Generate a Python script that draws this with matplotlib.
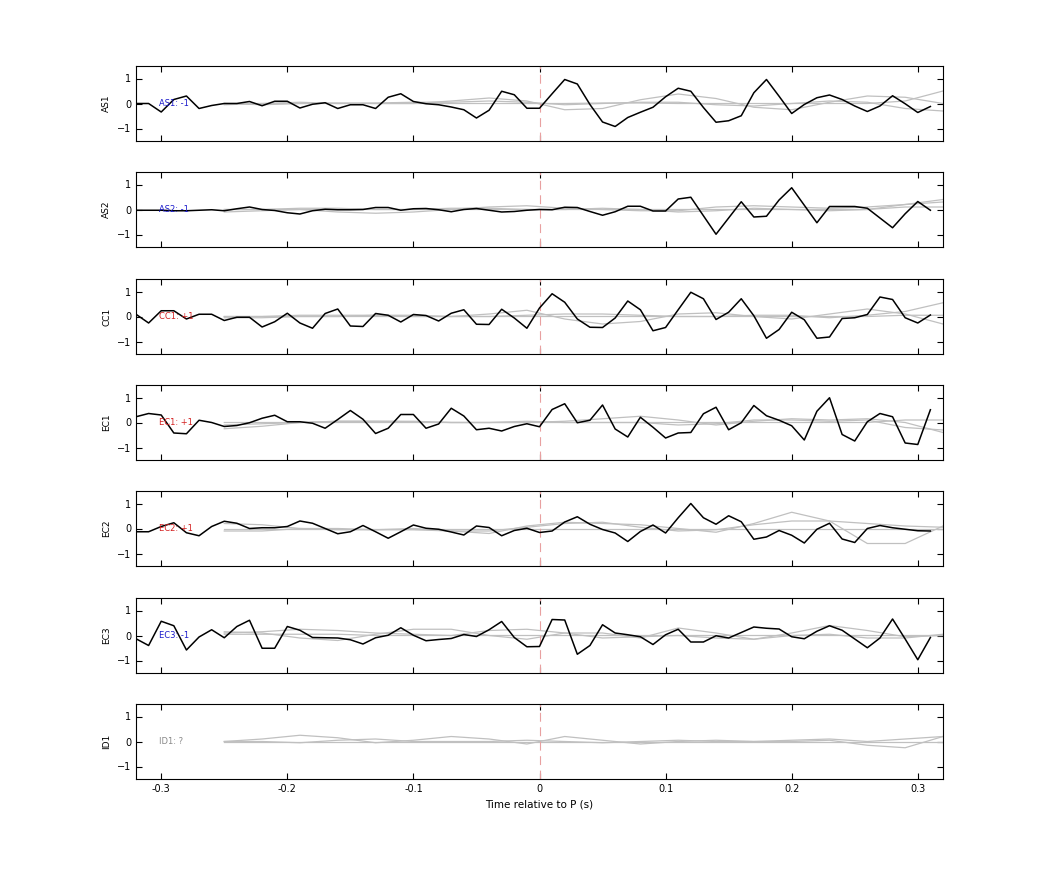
import numpy as np
import matplotlib.pyplot as plt

# Canaux et étiquettes
canaux = ['AS1', 'AS2', 'CC1', 'EC1', 'EC2', 'EC3', 'ID1']
etiquettes = ['AS1: -1', 'AS2: -1', 'CC1: +1', 'EC1: +1', 'EC2: +1', 'EC3: -1', 'ID1: ?']
couleurs_etiq = ['#1a1acc', '#1a1acc', '#d42020', '#d42020', '#d42020', '#1a1acc', '#888888']

# Traces noires (pas de 0.01 s, de -0.32 à 0.31 s)
as1 = [0, 0, -0.34, 0.16, 0.3, -0.2, -0.08, 0, 0, 0.08, -0.09, 0.09, 0.09, -0.18, -0.03, 0.03,
       -0.2, -0.05, -0.05, -0.2, 0.25, 0.39, 0.08, -0.01, -0.05, -0.14, -0.25, -0.58, -0.27, 0.49,
       0.35, -0.19, -0.19, 0.39, 0.96, 0.78, -0.04, -0.74, -0.92, -0.56, -0.35, -0.15, 0.27, 0.61,
       0.49, -0.16, -0.75, -0.69, -0.49, 0.43, 0.96, 0.29, -0.4, -0.04, 0.23, 0.34, 0.16, -0.1,
       -0.32, -0.1, 0.31, -0.01, -0.36, -0.12]
as2 = [-0.03, -0.03, -0.03, -0.05, -0.05, -0.03, -0.01, -0.05, 0.03, 0.1, 0, -0.04, -0.13, -0.18,
       -0.05, 0.01, -0.01, -0.01, 0, 0.08, 0.08, -0.03, 0.03, 0.04, -0.01, -0.09, 0, 0.04, -0.03,
       -0.1, -0.08, -0.03, 0, -0.01, 0.09, 0.08, -0.08, -0.23, -0.09, 0.13, 0.13, -0.06, -0.06,
       0.42, 0.49, -0.25, -0.99, -0.34, 0.31, -0.3, -0.27, 0.38, 0.87, 0.17, -0.53, 0.12, 0.12,
       0.12, 0.05, -0.34, -0.73, -0.17, 0.32, -0.03]
cc1 = [0.09, -0.26, 0.23, 0.23, -0.1, 0.09, 0.09, -0.16, -0.03, -0.03, -0.42, -0.21, 0.13, -0.26,
       -0.47, 0.12, 0.3, -0.38, -0.4, 0.12, 0.05, -0.22, 0.08, 0.04, -0.18, 0.13, 0.27, -0.31,
       -0.32, 0.29, -0.06, -0.47, 0.34, 0.91, 0.57, -0.1, -0.43, -0.44, -0.06, 0.62, 0.27, -0.57,
       -0.44, 0.27, 0.97, 0.71, -0.12, 0.17, 0.71, 0.03, -0.87, -0.52, 0.17, -0.13, -0.87, -0.82,
       -0.08, -0.05, 0.08, 0.78, 0.68, -0.05, -0.26, 0.06]
ec1 = [0.23, 0.36, 0.3, -0.42, -0.45, 0.09, 0, -0.16, -0.12, -0.01, 0.17, 0.29, 0.03, 0.03,
       -0.03, -0.23, 0.12, 0.48, 0.13, -0.44, -0.23, 0.32, 0.32, -0.23, -0.06, 0.57, 0.26, -0.29,
       -0.23, -0.34, -0.16, -0.05, -0.17, 0.52, 0.75, -0.01, 0.09, 0.7, -0.26, -0.58, 0.21, -0.19,
       -0.62, -0.42, -0.4, 0.35, 0.61, -0.29, -0.01, 0.68, 0.27, 0.09, -0.13, -0.7, 0.45, 0.99,
       -0.48, -0.74, 0.03, 0.36, 0.23, -0.82, -0.88, 0.51]
ec2 = [-0.13, -0.13, 0.08, 0.23, -0.17, -0.29, 0.08, 0.29, 0.21, 0, 0.03, 0.03, 0.08, 0.3, 0.21,
       0, -0.21, -0.13, 0.12, -0.13, -0.39, -0.13, 0.14, 0.01, -0.03, -0.14, -0.26, 0.1, 0.04,
       -0.29, -0.08, 0.01, -0.16, -0.1, 0.26, 0.47, 0.17, -0.04, -0.18, -0.52, -0.12, 0.14, -0.18,
       0.43, 1.0, 0.43, 0.17, 0.51, 0.27, -0.43, -0.34, -0.08, -0.27, -0.58, -0.03, 0.21, -0.42,
       -0.56, 0, 0.12, 0.03, -0.03, -0.09, -0.1]
ec3 = [-0.13, -0.4, 0.57, 0.39, -0.58, -0.06, 0.23, -0.09, 0.36, 0.61, -0.51, -0.51, 0.36, 0.21,
       -0.08, -0.09, -0.1, -0.17, -0.34, -0.09, 0.01, 0.31, 0.01, -0.21, -0.16, -0.12, 0.04, -0.04,
       0.23, 0.56, -0.08, -0.45, -0.44, 0.64, 0.62, -0.75, -0.4, 0.43, 0.1, 0.03, -0.05, -0.36,
       0.03, 0.25, -0.26, -0.26, -0.01, -0.1, 0.12, 0.34, 0.29, 0.26, -0.05, -0.13, 0.17, 0.39,
       0.21, -0.14, -0.49, -0.1, 0.66, -0.14, -0.97, -0.08]
traces = [as1, as2, cc1, ec1, ec2, ec3, None]

# Traces grises (échantillonnées tous les 0.03 s, de -0.25 à 0.32 s)
gris = [
    [[0, -0.05, 0, 0.02, 0, 0, 0.1, 0.22, 0.1, -0.25, -0.2, 0.15, 0.38, 0.2, -0.15, -0.25, 0.05, 0.3, 0.25, 0.0],
     [-0.05, 0, 0.05, 0, 0.02, 0.05, 0.05, 0.1, 0.05, -0.05, 0, 0.05, 0.05, -0.05, -0.1, 0, 0.1, 0.05, -0.2, -0.3],
     [0, 0, 0, 0, 0, 0, 0, 0, 0, 0, 0.02, 0.02, 0, 0, 0, 0, 0, 0, 0.1, 0.5]],
    [[-0.1, -0.05, 0, -0.1, -0.15, -0.1, 0, 0.1, 0.15, 0.05, 0, -0.05, -0.05, 0.1, 0.15, 0.1, 0.05, 0.1, 0.2, 0.4],
     [0, 0, 0.05, 0.05, 0, 0, 0.05, 0.05, 0, 0, 0.05, 0, -0.1, -0.05, 0.05, 0, -0.05, 0, 0.2, 0.3],
     [0, 0, 0, 0, 0, 0, 0, 0, 0, 0, 0, 0, 0, 0, 0, 0, 0, 0, 0.1, 0.1]],
    [[0, 0, 0.05, 0.05, 0.05, 0, 0, 0.1, 0.25, -0.1, -0.3, -0.2, 0.1, 0.15, 0, -0.1, 0.1, 0.3, 0.1, -0.3],
     [-0.05, -0.05, 0, 0, 0.05, 0.05, 0, 0, 0.05, 0.1, 0.1, 0.05, 0, 0, 0.05, 0.05, -0.05, 0.05, 0.2, 0.55],
     [0, 0, 0, 0, 0, 0, 0, 0, 0, 0, 0, 0, 0, 0, 0, 0, 0, 0, 0.05, 0.05]],
    [[-0.25, -0.15, 0, 0.05, 0.05, 0.05, 0, 0, 0, 0.05, 0.15, 0.25, 0.1, -0.1, 0.05, 0.15, 0.1, 0.15, 0, -0.4],
     [-0.1, -0.05, 0, 0.05, 0.05, 0.03, 0, 0, 0.05, 0, 0, 0, -0.1, -0.05, 0.1, 0.1, 0.05, 0.1, -0.2, -0.3],
     [0, 0, 0, 0, 0, 0, 0, 0, 0, 0, 0, 0, 0, 0, 0, 0, 0, 0, 0.1, 0.1]],
    [[0.2, 0.15, 0, 0, -0.05, 0, -0.1, -0.2, 0.1, 0.25, 0.2, 0.15, 0, -0.15, 0.2, 0.65, 0.3, -0.6, -0.6, 0.1],
     [-0.1, -0.1, 0, -0.05, -0.05, -0.05, -0.1, -0.1, 0.05, 0.2, 0.25, 0.05, -0.1, -0.05, 0.15, 0.3, 0.3, 0.2, 0.1, 0.05],
     [0, 0, 0, 0, 0, 0, 0, 0, 0, 0, 0, 0, 0, 0, 0, 0, 0, 0, 0, 0]],
    [[0.15, 0.1, -0.1, -0.2, 0.05, 0.25, 0.25, 0, -0.15, 0.1, 0.1, -0.1, 0.3, 0.1, -0.15, 0.1, 0.4, 0.2, -0.05, 0],
     [0.1, 0.15, 0.25, 0.2, 0.1, 0.05, 0, 0.2, 0.25, 0.1, -0.1, -0.05, 0, -0.1, -0.15, 0, 0.05, -0.1, -0.1, 0.05],
     [0.05, 0.05, 0.05, 0.05, 0, 0, 0, 0, 0, 0, 0, 0, 0, 0, 0, 0, 0, 0, 0, 0]],
    [[0, 0.1, 0.25, 0.15, -0.05, 0.05, 0.2, 0.1, -0.1, 0.2, 0.05, -0.1, 0, 0.05, 0, 0, 0.05, -0.15, -0.25, 0.2],
     [0, 0, -0.05, 0.05, 0.1, 0, 0, 0, 0.05, 0, -0.05, 0, 0.05, 0, 0, 0.05, 0.1, 0, 0.1, 0.2],
     [0, 0, 0, 0, 0, 0, 0, 0, 0, 0, 0, 0, 0, 0, 0, 0, 0, 0, 0, 0]],
]

t_gris = np.linspace(-0.25, 0.32, 20)

fig = plt.figure(figsize=(10.42, 8.75), dpi=100)
tops = [66, 172, 279, 385, 491, 598, 704]
for i, nom in enumerate(canaux):
    ax = fig.add_axes([136 / 1042, 1 - (tops[i] + 75) / 875, 807 / 1042, 75 / 875])
    for g in gris[i]:
        ax.plot(t_gris, g, color='#c0c0c0', lw=0.9)
    ax.axvline(0, color='#e8a0a0', ls=(0, (8, 5)), lw=0.8)
    if traces[i] is not None:
        t = np.round(-0.32 + 0.01 * np.arange(len(traces[i])), 2)
        ax.plot(t, traces[i], color='black', lw=1.1)
    ax.text(-0.302, 0, etiquettes[i], color=couleurs_etiq[i], fontsize=6, va='center')
    ax.set_xlim(-0.32, 0.32)
    ax.set_ylim(-1.5, 1.5)
    ax.set_yticks([-1, 0, 1])
    ax.set_xticks([-0.3, -0.2, -0.1, 0, 0.1, 0.2, 0.3])
    ax.tick_params(direction='in', labelsize=7, length=4, top=True, right=True)
    if i < len(canaux) - 1:
        ax.set_xticklabels([])
    else:
        ax.set_xticklabels(['-0.3', '-0.2', '-0.1', '0', '0.1', '0.2', '0.3'])
        ax.set_xlabel('Time relative to P (s)', fontsize=7.5)
    ax.set_ylabel(nom, fontsize=6.5)

plt.savefig('out.png', dpi=100)
